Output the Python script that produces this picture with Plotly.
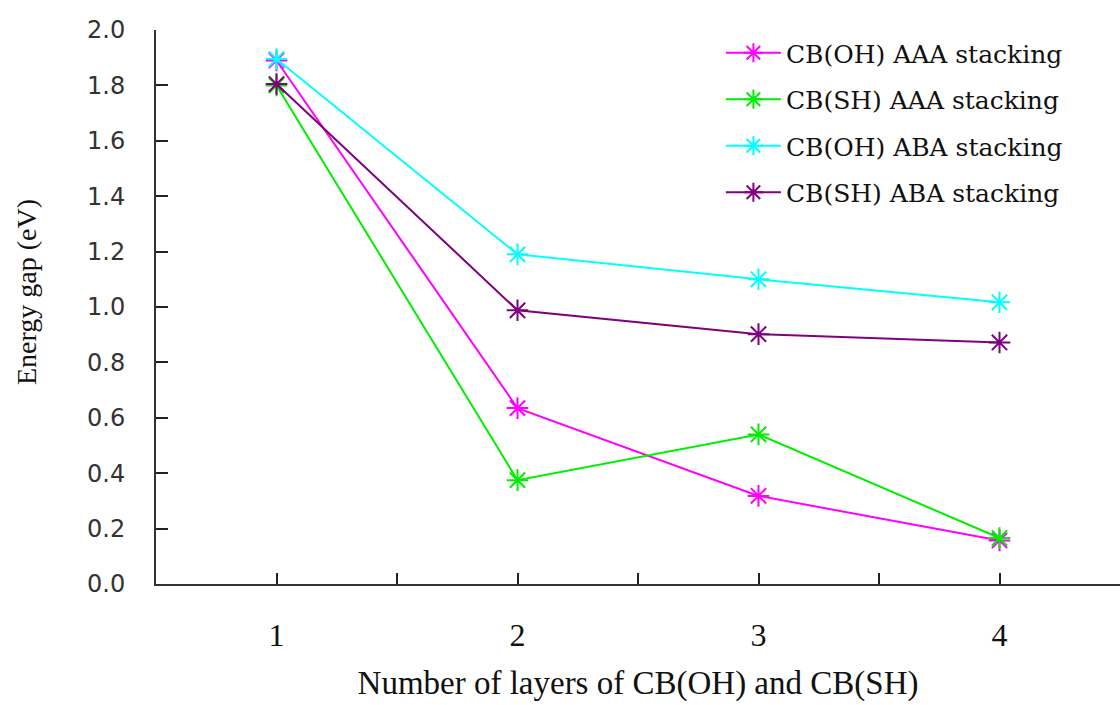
import plotly.graph_objects as go

layers = [1, 2, 3, 4]
oh_aaa = [1.89, 0.635, 0.318, 0.157]
sh_aaa = [1.80, 0.375, 0.54, 0.166]
oh_aba = [1.895, 1.19, 1.10, 1.017]
sh_aba = [1.805, 0.988, 0.902, 0.872]

names = ["CB(OH) AAA stacking", "CB(SH) AAA stacking", "CB(OH) ABA stacking", "CB(SH) ABA stacking"]
colors = ["#ff00ff", "#00ee00", "#00ffff", "#800080"]
series = [oh_aaa, sh_aaa, oh_aba, sh_aba]

x_tickvals = [1, 1.5, 2, 2.5, 3, 3.5, 4]
x_ticktext = ["1", "", "2", "", "3", "", "4"]
y_tickvals = [0.0, 0.2, 0.4, 0.6, 0.8, 1.0, 1.2, 1.4, 1.6, 1.8, 2.0]

fig = go.Figure()
for i, (name, vals, col) in enumerate(zip(names, series, colors)):
    fig.add_trace(go.Scatter(
        x=layers, y=vals, name=name, mode="lines+markers", legendgroup=f"g{i}",
        line=dict(color=col, width=2),
        marker=dict(symbol="asterisk-open", size=18, color=col, line=dict(color=col, width=2)),
    ))

serif = "Liberation Serif, Times New Roman, serif"
fig.update_layout(
    width=1120, height=705,
    margin=dict(l=156, r=0, t=30, b=121),
    paper_bgcolor="white", plot_bgcolor="white",
    showlegend=True,
    legend=dict(x=0.586, y=1.0, xanchor="left", yanchor="top",
                font=dict(family="DejaVu Serif, serif", size=25, color="#111"),
                itemwidth=55, tracegroupgap=11, bgcolor="rgba(0,0,0,0)"),
    xaxis=dict(range=[0.5, 4.5], tickvals=x_tickvals, ticktext=x_ticktext,
               ticks="inside", ticklen=11, tickwidth=1.5, tickcolor="#222",
               showline=True, linecolor="#333", linewidth=2, showgrid=False, zeroline=False,
               tickfont=dict(family=serif, size=32, color="#111"),
               ticklabelstandoff=22,
               title=dict(text="Number of layers of CB(OH) and CB(SH)", standoff=18,
                          font=dict(family=serif, size=33, color="#111"))),
    yaxis=dict(range=[0, 2.0], tickvals=y_tickvals, tickformat=".1f",
               ticks="inside", ticklen=12, tickwidth=1.5, tickcolor="#222",
               showline=True, linecolor="#333", linewidth=2, showgrid=False, zeroline=False,
               tickfont=dict(family="DejaVu Sans, sans-serif", size=24, color="#333"),
               ticklabelstandoff=24),
    annotations=[dict(text="Energy gap (eV)", xref="paper", yref="paper",
                      x=-156/964 + 27/964, y=(584 - 292) / 554, xanchor="center", yanchor="middle",
                      textangle=-90, showarrow=False,
                      font=dict(family=serif, size=28, color="#111"))],
)

fig.write_html("out.html")
